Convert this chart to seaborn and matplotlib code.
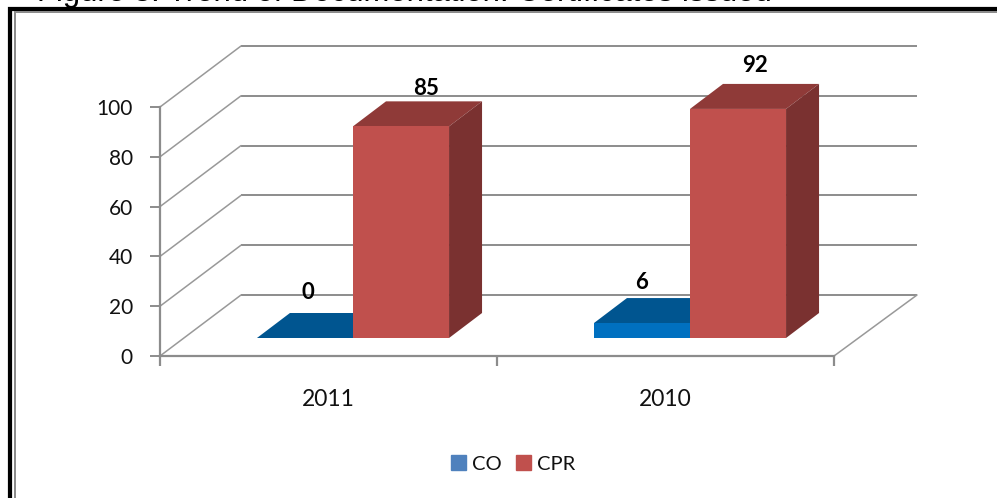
import matplotlib
matplotlib.use("Agg")
import matplotlib.pyplot as plt
from matplotlib.patches import Patch, Polygon
from pandas import DataFrame
import seaborn as sns

years = ["2011", "2010"]
series = ["CO", "CPR"]
co_values = [0, 6]
cpr_values = [85, 92]
y_ticks = [0, 20, 40, 60, 80, 100]

W, H = 997, 498
LEFT, RIGHT, BOTTOM, TOP = 160, 834, 356, 107
GRAY = "#8c8c8c"
TXT = "#111111"

front_cols = {"CO": "#0070c0", "CPR": "#c0504d"}
top_cols = {"CO": "#005590", "CPR": "#8f3a38"}
side_cols = {"CO": "#004a7c", "CPR": "#7a3130"}
legend_cols = {"CO": "#4f81bd", "CPR": "#c0504d"}

df = DataFrame({
    "year": years * 2,
    "series": ["CO"] * 2 + ["CPR"] * 2,
    "value": co_values + cpr_values,
})

sns.set_theme(style="white")
plt.rcParams["font.family"] = ["Lato", "DejaVu Sans"]

fig = plt.figure(figsize=(W / 100, H / 100), dpi=100)
ax = fig.add_axes([LEFT / W, 1 - BOTTOM / H, (RIGHT - LEFT) / W, (BOTTOM - TOP) / H])
ax.patch.set_alpha(0)

# one category is 337px wide
PX_X = 1 / 337
PX_Y = 100 / (BOTTOM - TOP)
xmin = -(353 - LEFT) * PX_X
xmax = xmin + (RIGHT - LEFT) * PX_X

# the floor of the bars sits part way into the "3d" box
sns.barplot(df, x="year", y="value", hue="series", palette=front_cols, hue_order=series,
            width=0.57, gap=0, saturation=1, bottom=18 * PX_Y, legend=False, ax=ax, zorder=3,
            linewidth=0)
ax.set_xlim(xmin, xmax)
ax.set_ylim(0, 100)
ax.set(xlabel="", ylabel="")

# back walls
depth_x, depth_y = 81 * PX_X, 61 * PX_Y
for v in y_ticks:
    ax.plot([xmin + depth_x, xmin + depth_x + 676 * PX_X], [v + depth_y] * 2, color=GRAY,
            lw=1.4, clip_on=False, zorder=1, solid_capstyle="butt")
    ax.plot([xmin, xmin + depth_x], [v, v + depth_y], color="#999999", lw=1.1,
            clip_on=False, zorder=1)
ax.plot([xmax, xmax + depth_x + 2 * PX_X], [0, depth_y], color="#999999", lw=1.1,
        clip_on=False, zorder=1)

# bar tops and sides from the bars seaborn made
bar_dx, bar_dy = 33 * PX_X, 25 * PX_Y
bars = list(ax.patches)
labels = co_values + cpr_values
names = ["CO"] * 2 + ["CPR"] * 2
# label nudges in px, excel did not put them at the same spot
label_dx = [3, 0, 25, 17]
label_dy = [21, 15.5, 13, 18]
for bar, val, name, ldx, ldy in zip(bars, labels, names, label_dx, label_dy):
    x0, w = bar.get_x(), bar.get_width()
    y1 = bar.get_y() + bar.get_height()
    y0 = bar.get_y()
    z = 2 if name == "CO" else 4
    bar.set_zorder(z + 0.5)
    ax.add_patch(Polygon([(x0, y1), (x0 + w, y1), (x0 + w + bar_dx, y1 + bar_dy), (x0 + bar_dx, y1 + bar_dy)],
                         color=top_cols[name], lw=0, clip_on=False, zorder=z))
    ax.add_patch(Polygon([(x0 + w, y0), (x0 + w + bar_dx, y0 + bar_dy), (x0 + w + bar_dx, y1 + bar_dy), (x0 + w, y1)],
                         color=side_cols[name], lw=0, clip_on=False, zorder=z))
    ax.text(x0 + w / 2 + ldx * PX_X, y1 + bar_dy + ldy * PX_Y, str(val), ha="center", va="center",
            fontsize=16, fontweight="bold", color="#000000", zorder=6, clip_on=False)

sns.despine(ax=ax)
for s in ["left", "bottom"]:
    ax.spines[s].set_color(GRAY)
    ax.spines[s].set_linewidth(1.6)

ax.set_yticks(y_ticks)
ax.tick_params(axis="y", length=7, width=1.4, color=GRAY, left=True, pad=12.5,
               labelsize=15, labelcolor=TXT)
ax.set_xticks([-0.0742, 0.9258], years)
ax.tick_params(axis="x", which="major", length=0, pad=23.5, labelsize=16.5, labelcolor=TXT)
ax.set_xticks([xmin, xmin + 337 * PX_X, xmax], minor=True)
ax.tick_params(axis="x", which="minor", length=7, width=1.6, color=GRAY, bottom=True)

handles = [Patch(color=legend_cols[s], label=s) for s in series]
fig.legend(handles=handles, loc="center", bbox_to_anchor=(513 / W, 1 - 464 / H), ncols=2,
           frameon=False, fontsize=14.5, handlelength=0.75, handleheight=0.75, handletextpad=0.3,
           columnspacing=0.7, labelcolor=TXT)

# image frame, open at right and bottom
for pts, col, lw in [([(10, H), (10, 9), (W, 9)], "#000000", 4.2),
                     ([(14.5, H), (14.5, 12.5), (W, 12.5)], GRAY, 2.0)]:
    xs = [p[0] / W for p in pts]
    ys = [1 - p[1] / H for p in pts]
    fig.add_artist(plt.Line2D(xs, ys, color=col, lw=lw * 0.72, solid_joinstyle="miter"))

# caption above the chart, cut off by the crop
fig.text(37 / W, 1 - 0.5 / H, "Figure 3: Trend of Documentation: Certificates issued", fontsize=22.3,
         family=["Liberation Sans"], color="#000000", va="baseline", ha="left")

fig.savefig("out.png", dpi=100)
